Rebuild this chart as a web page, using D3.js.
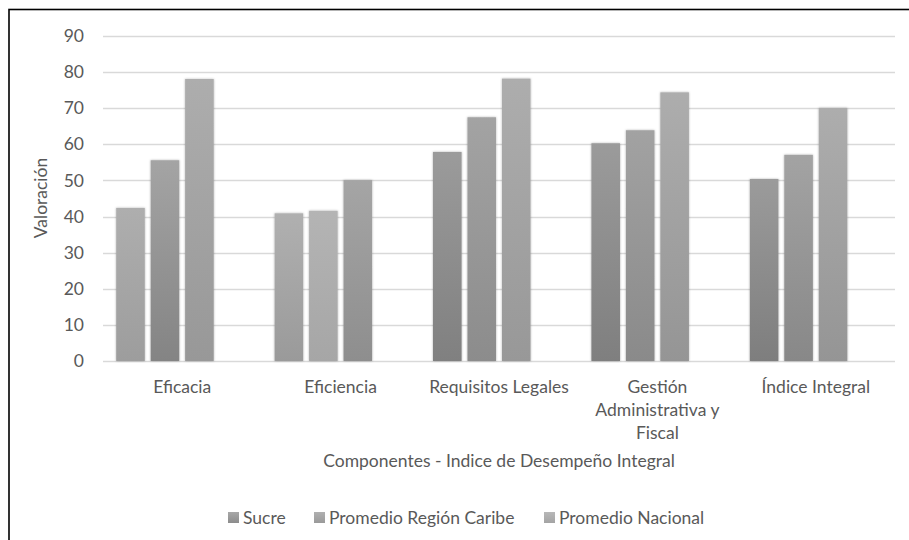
<!DOCTYPE html>
<html>
<head>
<meta charset="utf-8">
<script src="https://cdn.jsdelivr.net/npm/d3@7"></script>
<style>
  html, body { margin: 0; padding: 0; background: #fff; }
  svg { display: block; }
  text { font-family: Lato, "Open Sans", sans-serif; fill: #595959; }
</style>
</head>
<body>
<div id="chart"></div>
<script>
// ---- data ----
const categories = ["Eficacia", "Eficiencia", "Requisitos Legales", "Gestión Administrativa y Fiscal", "Índice Integral"];
const categoryLines = [["Eficacia"], ["Eficiencia"], ["Requisitos Legales"], ["Gestión", "Administrativa y", "Fiscal"], ["Índice Integral"]];
const seriesNames = ["Sucre", "Promedio Región Caribe", "Promedio Nacional"];
const sucre = [42.4, 40.9, 57.9, 60.3, 50.4];
const promedioCaribe = [55.6, 41.6, 67.5, 63.9, 57.1];
const promedioNacional = [78.1, 50.1, 78.2, 74.4, 70.1];
const yTicks = [0, 10, 20, 30, 40, 50, 60, 70, 80, 90];
const yTitle = "Valoración";
const xTitle = "Componentes - Indice de Desempeño Integral";

// ---- style (bar shading: [bottom, top] per category / series) ----
const barShades = [
  [["#9d9d9d", "#aeaeae"], ["#848484", "#a4a4a4"], ["#989898", "#adadad"]],
  [["#9a9a9a", "#b0b0b0"], ["#a6a6a6", "#b4b4b4"], ["#8e8e8e", "#a5a5a5"]],
  [["#808080", "#9b9b9b"], ["#8c8c8c", "#a3a3a3"], ["#989898", "#adadad"]],
  [["#7f7f7f", "#9b9b9b"], ["#8a8a8a", "#a2a2a2"], ["#959595", "#adadad"]],
  [["#7e7e7e", "#9b9b9b"], ["#888888", "#a3a3a3"], ["#959595", "#adadad"]]
];
const legendShades = [["#8c8c8c", "#a8a8a8"], ["#9a9a9a", "#b0b0b0"], ["#a4a4a4", "#b8b8b8"]];
const FS = 17.5;

const seriesValues = [sucre, promedioCaribe, promedioNacional];

const W = 909, H = 540;
const plot = { left: 103, right: 895, top: 36, bottom: 361 };

const svg = d3.select("#chart").append("svg").attr("width", W).attr("height", H);
const defs = svg.append("defs");

const shadow = defs.append("filter").attr("id", "shadow")
  .attr("x", "-30%").attr("y", "-10%").attr("width", "160%").attr("height", "120%");
shadow.append("feDropShadow").attr("dx", 0).attr("dy", 0)
  .attr("stdDeviation", 1.1).attr("flood-color", "#000").attr("flood-opacity", 0.3);

// chart border
svg.append("rect").attr("x", 9).attr("y", 9.5).attr("width", W + 20).attr("height", H + 20)
  .attr("fill", "none").attr("stroke", "#000").attr("stroke-width", 1.6);

const y = d3.scaleLinear().domain([0, 90]).range([plot.bottom, plot.top]);
const x0 = d3.scaleBand().domain(categories).range([plot.left, plot.right])
  .paddingInner(0.1667).paddingOuter(0.0833);
// 4 slots per category (the last one is an empty slot in the original chart)
const x1 = d3.scaleBand().domain(d3.range(seriesNames.length + 1)).range([0, x0.bandwidth()])
  .paddingInner(0.17).paddingOuter(0);

// gridlines
const grid = svg.append("g").attr("class", "grid");
grid.selectAll("line").data(yTicks).join("line")
  .attr("x1", plot.left).attr("x2", plot.right)
  .attr("y1", d => Math.round(y(d)) + 0.5).attr("y2", d => Math.round(y(d)) + 0.5)
  .attr("stroke", "#d9d9d9").attr("stroke-width", 1.3);

// y axis labels
const yAxis = d3.axisLeft(y).tickValues(yTicks).tickSize(0).tickPadding(0);
const yg = svg.append("g").attr("transform", `translate(${plot.left - 19},0)`).call(yAxis);
yg.select(".domain").remove();
yg.selectAll("text").attr("font-size", FS).attr("fill", "#595959")
  .style("font-family", "Lato, 'Open Sans', sans-serif");

// bars
const flat = [];
categories.forEach((c, ci) => {
  seriesValues.forEach((vals, si) => flat.push({ c, ci, si, v: vals[ci] }));
});
flat.forEach(d => {
  const g = defs.append("linearGradient").attr("id", `g${d.ci}_${d.si}`)
    .attr("x1", 0).attr("y1", 1).attr("x2", 0).attr("y2", 0);
  g.append("stop").attr("offset", "0%").attr("stop-color", barShades[d.ci][d.si][0]);
  g.append("stop").attr("offset", "100%").attr("stop-color", barShades[d.ci][d.si][1]);
});
svg.append("g").attr("filter", "url(#shadow)")
  .selectAll("rect").data(flat).join("rect")
  .attr("x", d => x0(d.c) + x1(d.si))
  .attr("width", x1.bandwidth())
  .attr("y", d => y(d.v))
  .attr("height", d => y(0) - y(d.v))
  .attr("fill", d => `url(#g${d.ci}_${d.si})`);

// x axis labels
const xg = svg.append("g");
categories.forEach((c, ci) => {
  const t = xg.append("text")
    .attr("x", x0(c) + x0.bandwidth() / 2).attr("y", 393)
    .attr("text-anchor", "middle").attr("font-size", FS);
  categoryLines[ci].forEach((line, li) => {
    t.append("tspan").attr("x", x0(c) + x0.bandwidth() / 2)
      .attr("dy", li === 0 ? 0 : 23).text(line);
  });
});

// axis titles
svg.append("text").attr("x", (plot.left + plot.right) / 2).attr("y", 467)
  .attr("text-anchor", "middle").attr("font-size", FS).text(xTitle);
svg.append("text").attr("transform", "translate(47,198) rotate(-90)")
  .attr("text-anchor", "middle").attr("font-size", FS).text(yTitle);

// legend
const legendX = [228, 314, 544];
const lg = svg.append("g");
seriesNames.forEach((name, i) => {
  const lgGrad = defs.append("linearGradient").attr("id", `lg${i}`)
    .attr("x1", 0).attr("y1", 1).attr("x2", 0).attr("y2", 0);
  lgGrad.append("stop").attr("offset", "0%").attr("stop-color", legendShades[i][0]);
  lgGrad.append("stop").attr("offset", "100%").attr("stop-color", legendShades[i][1]);
  lg.append("rect").attr("x", legendX[i]).attr("y", 512).attr("width", 11).attr("height", 11)
    .attr("fill", `url(#lg${i})`);
  lg.append("text").attr("x", legendX[i] + 15).attr("y", 523.5).attr("font-size", FS).text(name);
});
</script>
</body>
</html>
